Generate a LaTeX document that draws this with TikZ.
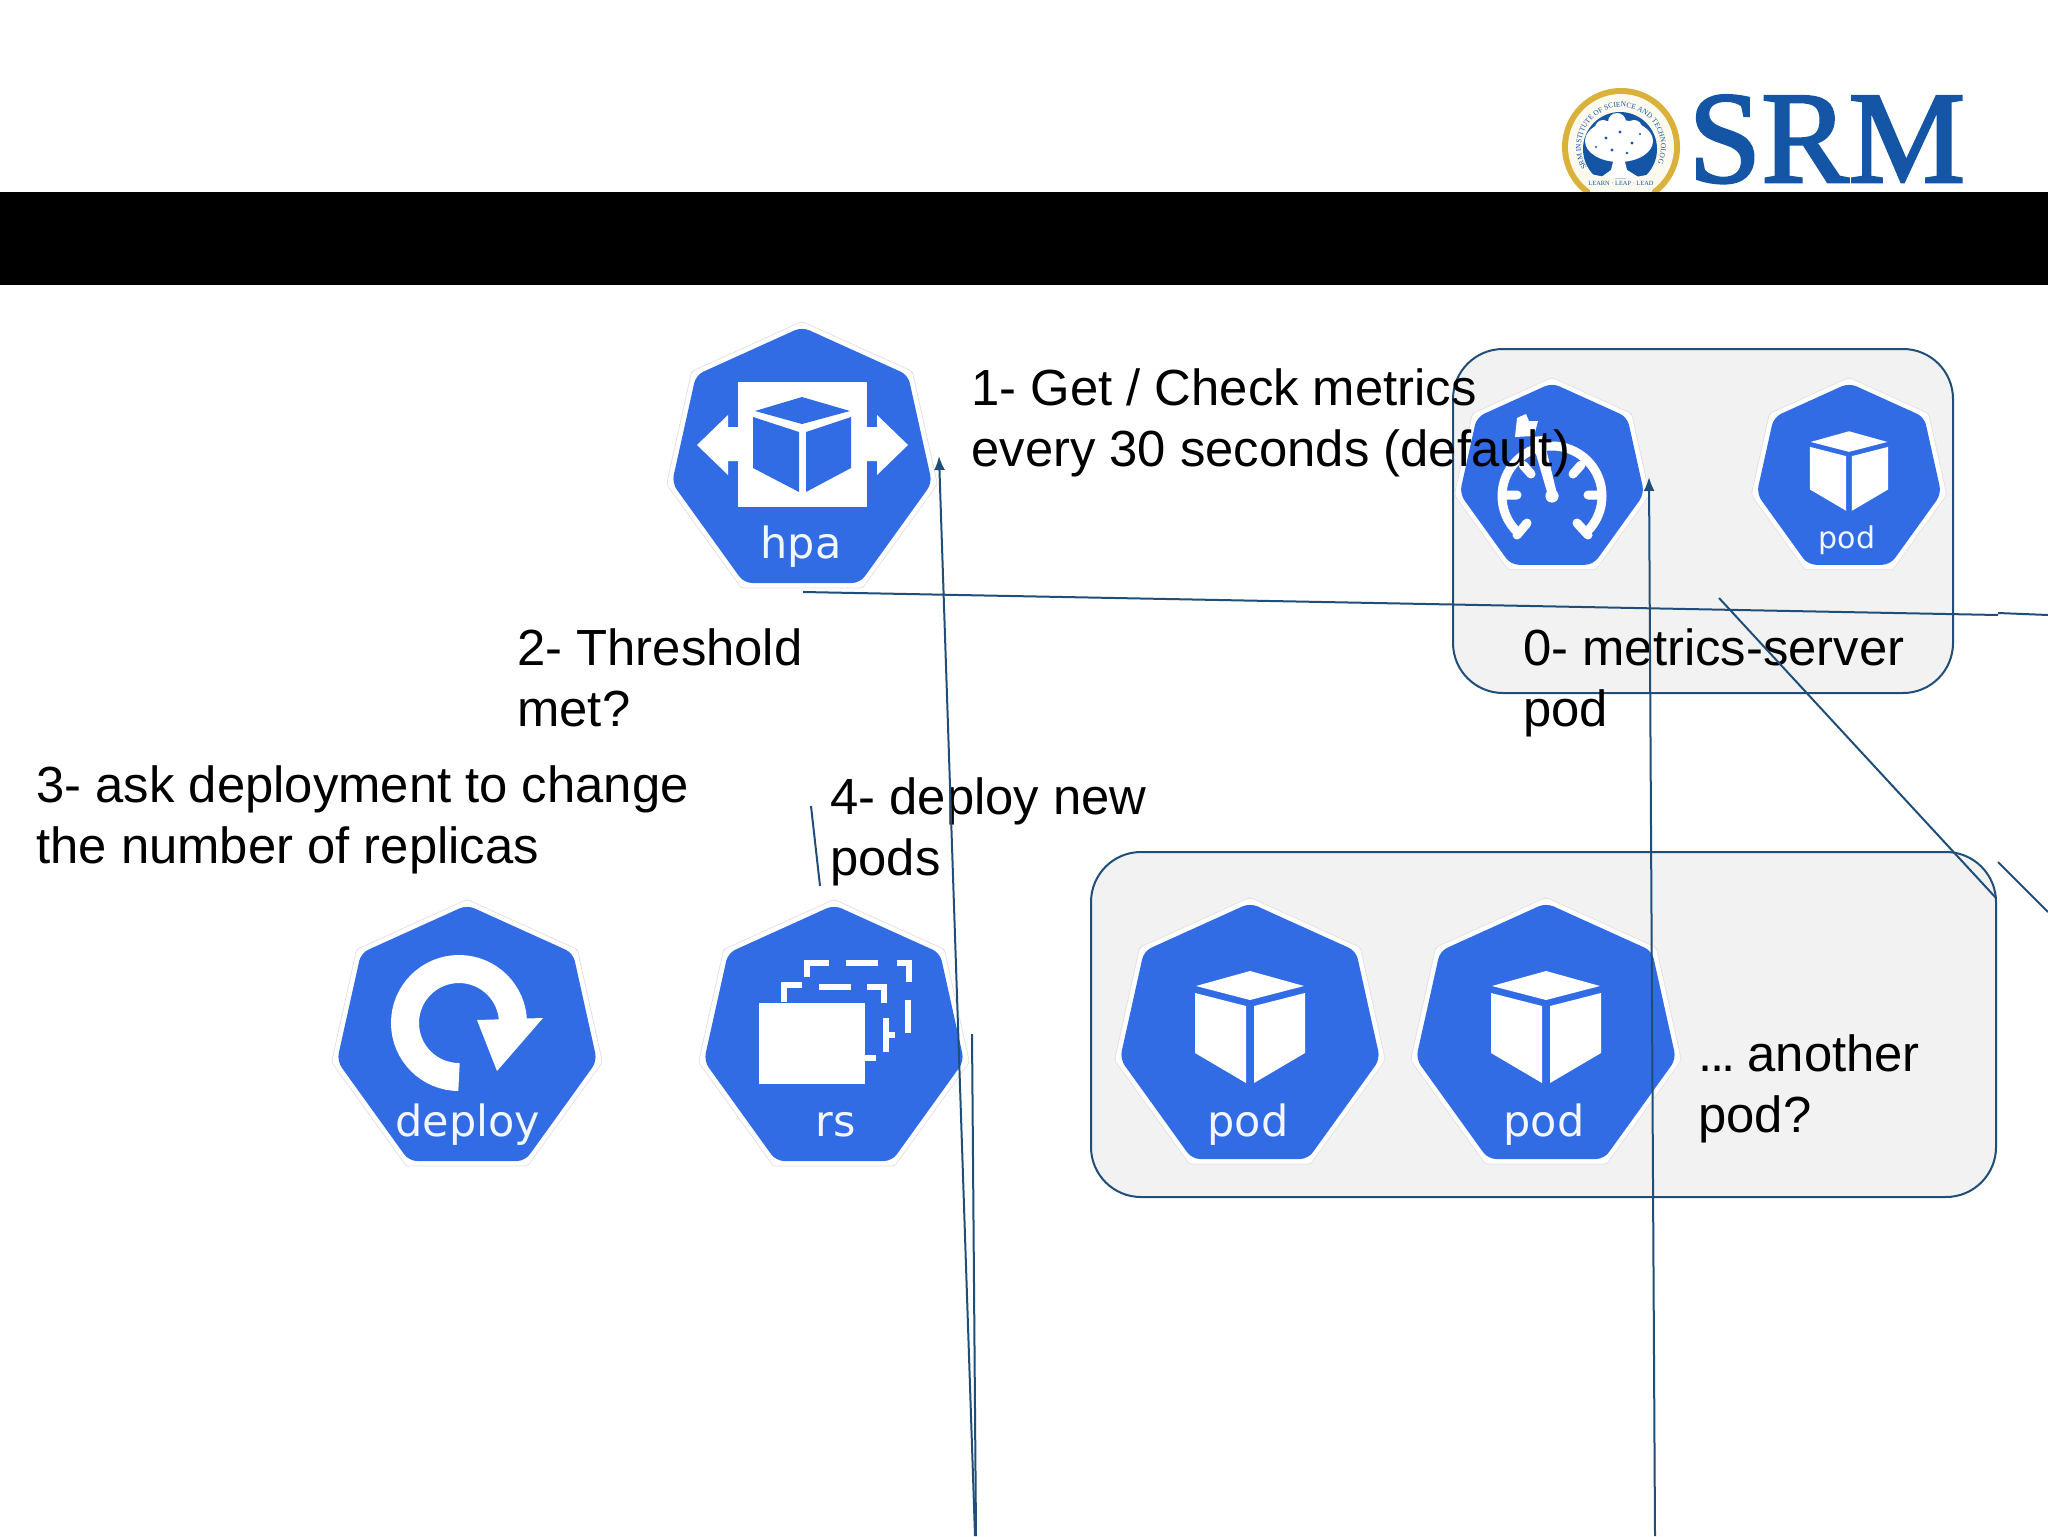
\documentclass[tikz,border=0pt]{standalone}
\usepackage{fontspec}
\setmainfont{Liberation Sans}
\newfontfamily\iconfont{DejaVu Sans}
\newfontfamily\logofont{Liberation Serif}
\newfontfamily\srmfont[RawFeature={embolden=2}]{Liberation Serif}
\usetikzlibrary{arrows.meta,decorations.text}
\definecolor{kblue}{HTML}{326CE5}
\definecolor{lnblue}{HTML}{1F4E79}
\definecolor{boxgray}{HTML}{F2F2F2}
\definecolor{srmblue}{HTML}{1555A5}
\definecolor{seagold}{HTML}{D9B13B}
\definecolor{iconwhite}{HTML}{F2F6FF}
\newcommand{\tl}{\rule{0pt}{20pt}}
\newcommand{\heptabody}{(0,0) -- (106,48) -- (130,156) -- (58,256) -- (-58,256) -- (-130,156) -- (-106,48) -- cycle}
\newcommand{\hepta}{%
  \draw[line join=round,draw=black!12,line width=5.4pt] \heptabody;
  \draw[line join=round,draw=white,line width=4.6pt] \heptabody;
  \fill[kblue,rounded corners=4pt] \heptabody;}
\newcommand{\cube}{%
  \fill[white] (0,68) -- (54,83) -- (0,97) -- (-54,83) -- cycle;
  \fill[white] (-55,90) -- (-4,103) -- (-4,180) -- (-55,150) -- cycle;
  \fill[white] (55,90) -- (4,103) -- (4,180) -- (55,150) -- cycle;}
\tikzset{
  txt/.style={anchor=north west,inner sep=0pt,align=left,text=black,
    font=\fontsize{25.4}{30.7}\selectfont},
  ilabel/.style={anchor=base,inner sep=0pt,text=iconwhite,
    font=\iconfont\fontsize{21.5}{25}\selectfont},
  grpbox/.style={draw=lnblue,line width=1pt,fill=boxgray,rounded corners=25pt},
  conn/.style={draw=lnblue,line width=1pt},
  connarrow/.style={conn,-{Latex[length=7pt,width=5.5pt]}}
}
\begin{document}
\begin{tikzpicture}[x=0.5pt,y=-0.5pt]
\useasboundingbox (0,0) rectangle (2048,1536);
\fill[white] (0,0) rectangle (2048,1536);

% seal
\fill[seagold] (1621,147) circle[radius=29.5pt];
\fill[white!92!seagold] (1621,147) circle[radius=26.5pt];
\fill[srmblue] (1620,149) circle[radius=18.5pt];
\path[postaction={decorate,decoration={text along path,text align=center,
  text={|\logofont\fontsize{3.7}{4}\selectfont\color{srmblue}|SRM INSTITUTE OF SCIENCE AND TECHNOLOGY}}}]
  (1621,147) ++(205:20pt) arc[start angle=205,end angle=-25,radius=20pt];
\fill[white] (1619,141) ellipse[x radius=17pt,y radius=10.5pt];
\fill[white] (1603,128) circle[radius=4pt] (1617,122) circle[radius=4.5pt] (1634,128) circle[radius=4pt];
\fill[srmblue] (1606,138) circle[radius=.8pt] (1620,132) circle[radius=.8pt] (1632,143) circle[radius=.8pt]
  (1612,150) circle[radius=.8pt] (1627,153) circle[radius=.7pt] (1640,134) circle[radius=.6pt] (1596,147) circle[radius=.6pt];
\fill[white] (1614,158) -- (1624,158) -- (1627,170) -- (1640,178) -- (1600,178) -- (1611,170) -- cycle;
\fill[white!92!seagold] (1590,174) .. controls (1620,180) .. (1652,174) -- (1652,192) -- (1590,192) -- cycle;
\node[inner sep=0pt,text=srmblue,font=\logofont\fontsize{3.2}{4}\selectfont] (motto) at (1621,183) {LEARN · LEAP · LEAD};
\node[anchor=base west,inner sep=0pt,text=srmblue,font=\srmfont\fontsize{65.5}{70}\selectfont] (srm) at (1688,182) {SRM};

% black bar
\fill[black] (0,192) rectangle (2048,285);

% group boxes
\draw[grpbox] (1453,349) rectangle (1953,693);
\draw[grpbox] (1091,852) rectangle (1996,1197);

% hpa
\begin{scope}[shift={(802,327)}]
  \hepta
  \fill[white] (-64,55) rectangle (65,180);
  \fill[white] (-105,118) -- (-74,88) -- (-74,100) -- (-64,100) -- (-64,134) -- (-74,134) -- (-74,148) -- cycle;
  \fill[white] (106,118) -- (75,88) -- (75,100) -- (65,100) -- (65,134) -- (75,134) -- (75,148) -- cycle;
  \fill[kblue] (0,70) -- (48,84) -- (0,97) -- (-47,84) -- cycle;
  \fill[kblue] (-49,90) -- (-3,105) -- (-3,165) -- (-49,141) -- cycle;
  \fill[kblue] (4,105) -- (49,90) -- (49,141) -- (4,165) -- cycle;
\end{scope}
\node[ilabel] (hpalbl) at (801,558) {hpa};

% deploy
\begin{scope}[shift={(467,905)}]
  \hepta
\end{scope}
\draw[white,line width=14pt] (459,1077) arc[start angle=270,end angle=0,radius=27pt];
\fill[white] (477,1020) -- (543,1018) -- (497,1071) -- cycle;
\node[ilabel] (deploylbl) at (468,1136) {deploy};

% rs
\begin{scope}[shift={(834,905)}]
  \hepta
\end{scope}
\fill[white] (759,1003) rectangle (865,1084);
\draw[white,line width=3.3pt]
  (807,977) -- (807,963) -- (829,963)
  (846,963) -- (878,963)
  (897,963) -- (909,963) -- (909,982)
  (908,1000) -- (908,1033)
  (784,1002) -- (784,985) -- (802,985)
  (819,987) -- (851,987)
  (867,987) -- (884,987) -- (884,1003)
  (886,1018) -- (886,1052)
  (886,1035) -- (895,1035)
  (865,1058) -- (876,1058);
\node[ilabel] (rslbl) at (836,1136) {rs};

% big pods
\begin{scope}[shift={(1250,903)}]
  \hepta \cube
\end{scope}
\node[ilabel] (podlbla) at (1248,1136) {pod};
\begin{scope}[shift={(1546,903)}]
  \hepta \cube
\end{scope}
\node[ilabel] (podlblb) at (1544,1136) {pod};

% metrics icon
\begin{scope}[shift={(1552,383)},scale=0.71]
  \hepta
\end{scope}
\draw[white,line width=4.5pt] (1552,496) ++(225:25pt) arc[start angle=225,end angle=-45,radius=25pt];
\draw[white,line width=4.5pt,line cap=round]
  (1517,535) -- (1527,523)
  (1588,535) -- (1577,523)
  (1506,495) -- (1517,495)
  (1588,495) -- (1599,495)
  (1581,465) -- (1573,474)
  (1523,465) -- (1531,474);
\fill[white] (1552,496) circle[radius=3.3pt];
\fill[white] (1547,492) -- (1557,494) -- (1543,436) -- (1531,437) -- cycle;
\fill[white] (1517,418) -- (1526,414) -- (1529,421) -- (1538,421) -- (1534,436) -- (1515,437) -- cycle;

% small pod
\begin{scope}[shift={(1849,383)},scale=0.71]
  \hepta \cube
\end{scope}
\node[ilabel,font=\iconfont\fontsize{15}{17}\selectfont] (podlblc) at (1847,548) {pod};

% texts
\node[txt] (t1) at (971,365) {\tl 1- Get / Check metrics\\every 30 seconds (default)};
\node[txt] (t2) at (517,625) {\tl 2- Threshold\\met?};
\node[txt] (t3) at (36,762) {\tl 3- ask deployment to change\\the number of replicas};
\node[txt] (t4) at (830,774) {\tl 4- deploy new\\pods};
\node[txt] (t0) at (1523,625) {\tl 0- metrics-server\\pod};
\node[txt] (t5) at (1698,1031) {\tl .\kern-1.2pt.\kern-1.2pt.\kern-3.6pt{} another\\pod?};

% connectors
\coordinate (a1s) at (975,1536);
\coordinate (a1e) at (939,456);
\coordinate (l1s) at (972,1034);
\coordinate (l1e) at (976,1536);
\coordinate (a2s) at (1655,1536);
\coordinate (a2e) at (1649,477);
\coordinate (l2s) at (803,592);
\coordinate (l2e) at (1998,615);
\coordinate (l3s) at (1998,613);
\coordinate (l3e) at (2048,615);
\coordinate (l4s) at (1719,598);
\coordinate (l4e) at (1996,898);
\coordinate (l5s) at (1998,862);
\coordinate (l5e) at (2048,912);
\coordinate (l6s) at (811,806);
\coordinate (l6e) at (820,886);
\draw[connarrow] (a1s) -- (a1e);
\draw[connarrow] (a2s) -- (a2e);
\draw[conn] (l1s) -- (l1e);
\draw[conn] (l2s) -- (l2e);
\draw[conn] (l3s) -- (l3e);
\draw[conn] (l4s) -- (l4e);
\draw[conn] (l5s) -- (l5e);
\draw[conn] (l6s) -- (l6e);
\end{tikzpicture}
\end{document}
